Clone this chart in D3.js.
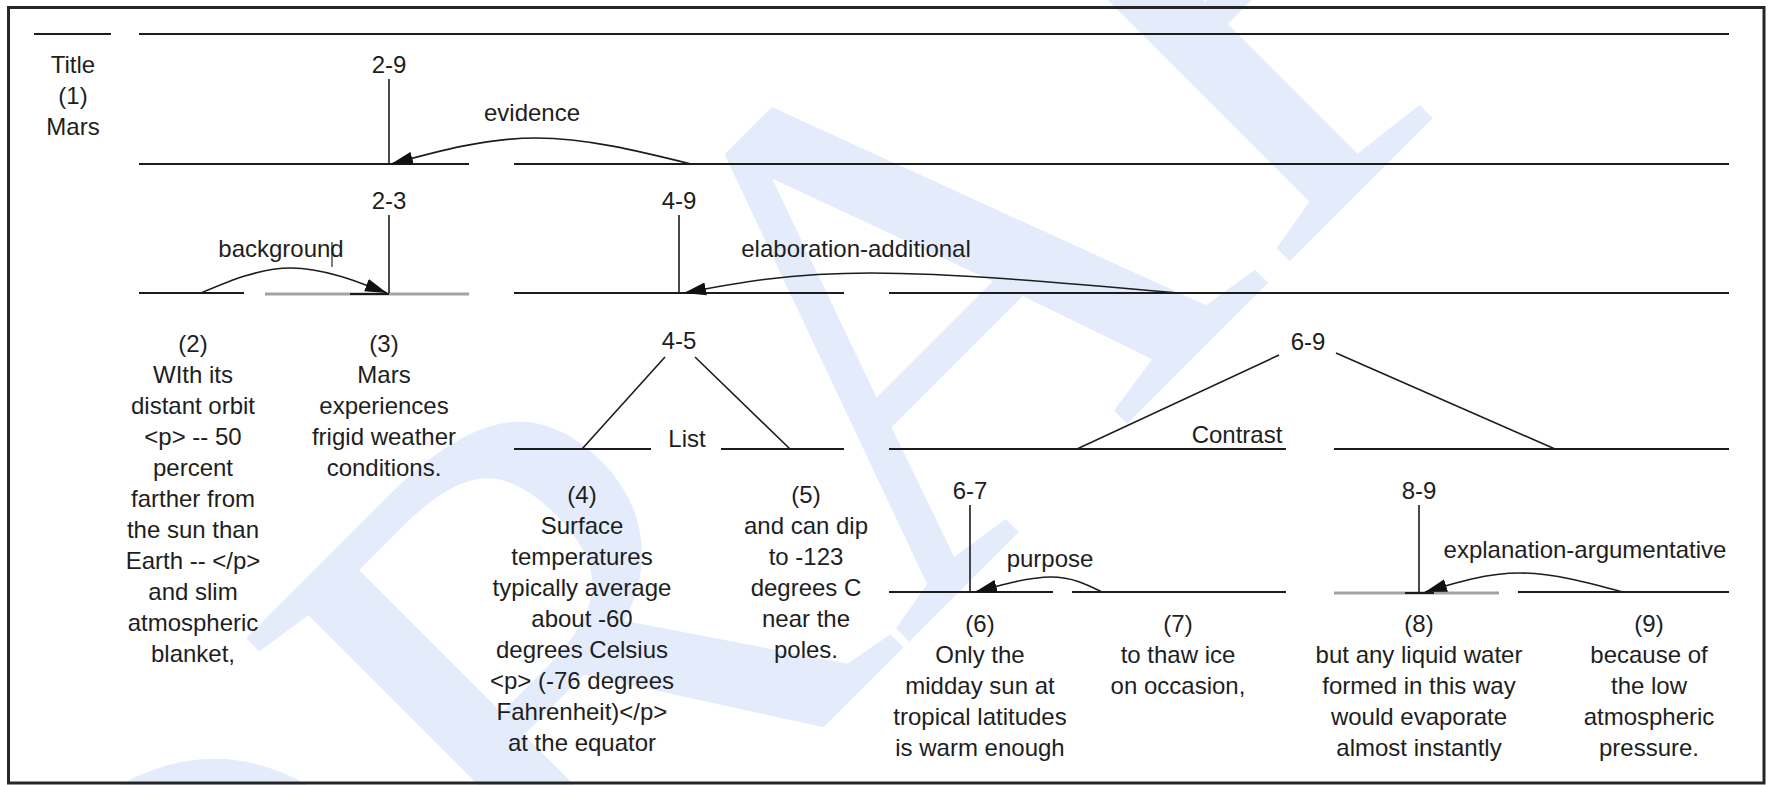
<!DOCTYPE html>
<html lang="en">
<head>
<meta charset="UTF-8">
<title>RST tree - Mars</title>
<script src="https://d3js.org/d3.v7.min.js"></script>
<style>
  body { margin: 0; padding: 0; background: #fff; }
  svg { display: block; font-family: "Liberation Sans", Arial, sans-serif; }
  .seg { stroke: #1c1c1c; stroke-width: 2; }
  .seg.gray { stroke: #a3a3a3; stroke-width: 3; }
  .stem { stroke: #1c1c1c; stroke-width: 1.6; }
  .arc { fill: none; stroke: #1c1c1c; stroke-width: 1.6; }
  .txt { font-size: 24px; fill: #1e1e1e; text-anchor: middle; }
  .watermark { font-family: "Liberation Serif", "Times New Roman", serif; font-size: 720px; fill: #e4ecfc; }
</style>
</head>
<body>
<div id="chart"></div>
<script>
  // ---- data: EDUs, spans and relations ----
  const eduIds = ["(1)", "(2)", "(3)", "(4)", "(5)", "(6)", "(7)", "(8)", "(9)"];
  const eduTexts = [
    ["Mars"],
    ["WIth its", "distant orbit", "<p> -- 50", "percent", "farther from", "the sun than", "Earth -- </p>", "and slim", "atmospheric", "blanket,"],
    ["Mars", "experiences", "frigid weather", "conditions."],
    ["Surface", "temperatures", "typically average", "about -60", "degrees Celsius", "<p> (-76 degrees", "Fahrenheit)</p>", "at the equator"],
    ["and can dip", "to -123", "degrees C", "near the", "poles."],
    ["Only the", "midday sun at", "tropical latitudes", "is warm enough"],
    ["to thaw ice", "on occasion,"],
    ["but any liquid water", "formed in this way", "would evaporate", "almost instantly"],
    ["because of", "the low", "atmospheric", "pressure."]
  ];
  const spanLabels = ["2-9", "2-3", "4-9", "4-5", "6-9", "6-7", "8-9"];
  const spanMulti = [false, false, false, true, true, false, false];
  const relNames = ["evidence", "background", "elaboration-additional", "purpose", "explanation-argumentative"];
  const multiRelNames = ["List", "Contrast"];
  const watermarkText = "DRAFT";

  // ---- layout (reference pixel frame) ----
  const W = 1771, H = 785;
  const x = d3.scaleLinear().domain([0, 1771]).range([0, W]);
  const y = d3.scaleLinear().domain([0, 785]).range([0, H]);
  const levelY = [34, 164, 293, 449, 592];
  const lineGap = 31;

  const eduCols = [[34, 111], [139, 244], [265, 469], [514, 651], [721, 844], [889, 1053], [1072, 1286], [1334, 1499], [1518, 1729]];
  const eduDepth = [0, 2, 2, 3, 3, 4, 4, 4, 4];
  const eduGray = [false, false, true, false, false, false, false, true, false];
  const eduTextX = [73, 193, 384, 582, 806, 980, 1178, 1419, 1649];
  const eduTextY = [73, 352, 352, 503, 503, 632, 632, 632, 632];

  const spanRange = [[2, 9], [2, 3], [4, 9], [4, 5], [6, 9], [6, 7], [8, 9]];
  const spanDepth = [0, 1, 1, 2, 2, 3, 3];
  const spanLabelX = [389, 389, 679, 679, 1308, 970, 1419];
  const spanLabelY = [73, 209, 209, 349, 350, 499, 499];
  // diagonals for multinuclear spans: [x0, y0, x1] ending on the child line
  const spanDiag = [null, null, null,
    [[665, 357, 582], [695, 357, 790]],
    [[1279, 355, 1077], [1336, 353, 1555]],
    null, null];
  const multiLabelPos = [[687, 447], [1237, 443]];

  // arcs: [level, satellite x, peak x, peak y, nucleus x], label [x, y]
  const relArcs = [[1, 691, 536, 138, 391], [2, 201, 291, 268, 387], [2, 1178, 871, 273, 684], [4, 1102, 1051, 577, 975], [4, 1623, 1520, 573, 1425]];
  const relLabelPos = [[532, 121], [281, 257], [856, 257], [1050, 567], [1585, 558]];

  const svg = d3.select("#chart").append("svg")
    .attr("width", W).attr("height", H);

  svg.append("defs").append("marker")
    .attr("id", "head")
    .attr("viewBox", "-22 -7 22 14")
    .attr("markerUnits", "userSpaceOnUse")
    .attr("markerWidth", 22).attr("markerHeight", 14)
    .attr("refX", 0).attr("refY", 0)
    .attr("orient", "auto")
    .append("path").attr("d", "M0,0L-22,-6.5L-22,6.5Z").attr("fill", "#111");

  // watermark
  svg.append("text")
    .attr("class", "watermark")
    .attr("transform", "translate(197,1354) rotate(-45)")
    .text(watermarkText);

  // frame
  svg.append("rect")
    .attr("x", x(8.5)).attr("y", y(7.5))
    .attr("width", x(1764) - x(8.5)).attr("height", y(783) - y(7.5))
    .attr("fill", "none").attr("stroke", "#262626").attr("stroke-width", 3);

  // horizontal lines: EDUs and spans
  const segs = [];
  eduCols.forEach((c, i) => segs.push({ x0: c[0], x1: c[1], lvl: eduDepth[i], gray: eduGray[i] }));
  spanRange.forEach((r, i) => segs.push({ x0: eduCols[r[0] - 1][0], x1: eduCols[r[1] - 1][1], lvl: spanDepth[i], gray: false }));

  svg.selectAll("line.seg").data(segs).enter().append("line")
    .attr("class", d => d.gray ? "seg gray" : "seg")
    .attr("x1", d => x(d.x0)).attr("x2", d => x(d.x1))
    .attr("y1", d => y(levelY[d.lvl]) + (d.gray ? 1 : 0))
    .attr("y2", d => y(levelY[d.lvl]) + (d.gray ? 1 : 0));

  // dark stub over the gray nucleus lines
  const stubs = [[2, 350, 389], [4, 1405, 1434]];
  svg.selectAll("line.stub").data(stubs).enter().append("line")
    .attr("class", "seg")
    .attr("x1", d => x(d[1])).attr("x2", d => x(d[2]))
    .attr("y1", d => y(levelY[d[0]]) + 1).attr("y2", d => y(levelY[d[0]]) + 1);

  // span labels
  svg.selectAll("text.span").data(spanLabels).enter().append("text")
    .attr("class", "txt span")
    .attr("x", (d, i) => x(spanLabelX[i]))
    .attr("y", (d, i) => y(spanLabelY[i]))
    .text(d => d);

  // stems (mononuclear) and diagonals (multinuclear)
  spanLabels.forEach((s, i) => {
    if (spanMulti[i]) {
      spanDiag[i].forEach(dg => {
        svg.append("line").attr("class", "stem")
          .attr("x1", x(dg[0])).attr("y1", y(dg[1]))
          .attr("x2", x(dg[2])).attr("y2", y(levelY[spanDepth[i] + 1]));
      });
    } else {
      svg.append("line").attr("class", "stem")
        .attr("x1", x(spanLabelX[i])).attr("x2", x(spanLabelX[i]))
        .attr("y1", y(spanLabelY[i] + 6)).attr("y2", y(levelY[spanDepth[i] + 1]));
    }
  });

  // multinuclear relation names
  svg.selectAll("text.multi").data(multiRelNames).enter().append("text")
    .attr("class", "txt multi")
    .attr("x", (d, i) => x(multiLabelPos[i][0]))
    .attr("y", (d, i) => y(multiLabelPos[i][1]))
    .text(d => d);

  // relation arcs
  const arcLine = d3.line().x(d => x(d[0])).y(d => y(d[1])).curve(d3.curveNatural);
  svg.selectAll("path.arc").data(relArcs).enter().append("path")
    .attr("class", "arc")
    .attr("d", d => arcLine([[d[1], levelY[d[0]]], [d[2], d[3]], [d[4], levelY[d[0]]]]))
    .attr("marker-end", "url(#head)");

  svg.selectAll("text.rel").data(relNames).enter().append("text")
    .attr("class", "txt rel")
    .attr("x", (d, i) => x(relLabelPos[i][0]))
    .attr("y", (d, i) => y(relLabelPos[i][1]))
    .text(d => d);

  // text cursor left in the background label
  svg.append("line").attr("stroke", "#222").attr("stroke-width", 1.2)
    .attr("x1", x(332)).attr("x2", x(332)).attr("y1", y(242)).attr("y2", y(267));

  // EDU texts
  eduTexts.forEach((lines, i) => {
    const all = i === 0 ? ["Title", eduIds[0]].concat(lines) : [eduIds[i]].concat(lines);
    const t = svg.append("text").attr("class", "txt edu");
    all.forEach((ln, k) => {
      t.append("tspan")
        .attr("x", x(eduTextX[i]))
        .attr("y", y(eduTextY[i] + k * lineGap))
        .text(ln);
    });
  });
</script>
</body>
</html>
